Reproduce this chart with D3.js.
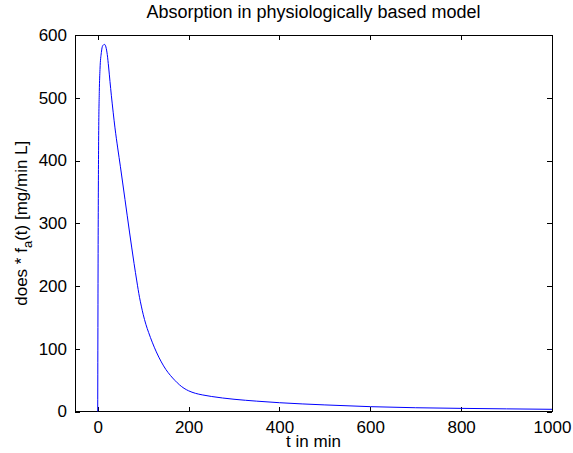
<!DOCTYPE html>
<html lang="en">
<head>
  <meta charset="UTF-8">
  <title>Absorption in physiologically based model</title>
  <script src="https://d3js.org/d3.v7.min.js"></script>
  <style>
    body { margin: 0; background: #fff; }
    svg { display: block; font-family: "Liberation Sans", Arial, sans-serif; }
    .axis path, .axis line { stroke: #000; shape-rendering: crispEdges; }
    .axis text { font-size: 17px; fill: #000; }
  </style>
</head>
<body>
  <svg id="chart" width="573" height="453"></svg>
  <script>
    // time points (min) and absorption values
    const tValues = [0, 1, 2, 3.5, 5, 8, 11, 15, 18, 21, 24, 27, 30, 34, 38, 44, 50, 60, 70, 80, 86, 92, 96,
                     100, 106, 112, 120, 129, 140, 150, 160, 170, 180, 190, 200, 215, 230, 250, 275, 300,
                     350, 400, 500, 600, 700, 800, 900, 1000];
    const fValues = [0, 280, 430, 510, 545, 572, 583, 585, 581, 569, 549, 526, 504, 477, 452, 420, 390, 338, 286, 236, 208, 182, 168,
                     155, 139, 126, 110.5, 95, 79, 67, 57.5, 49.5, 42.5, 37, 33, 29, 26.5, 24, 21.5, 19.5,
                     16.5, 14, 10.5, 7.7, 6, 5, 4.2, 3.5];
    const xTicks = [0, 200, 400, 600, 800, 1000];
    const yTicks = [0, 100, 200, 300, 400, 500, 600];

    const data = tValues.map((t, i) => ({ t: t, f: fValues[i] }));

    // plot box
    const box = { left: 75, right: 552, top: 35, bottom: 411.5 };

    const svg = d3.select("#chart");

    const x = d3.scaleLinear().domain([-50, 1000]).range([box.left, box.right]);
    const y = d3.scaleLinear().domain([0, 600]).range([box.bottom, box.top]);

    // ticks pointing inward on all four sides
    svg.append("g")
      .attr("class", "axis")
      .attr("transform", `translate(0,${box.bottom})`)
      .call(d3.axisBottom(x).tickValues(xTicks).tickFormat(d3.format("d"))
        .tickSizeInner(-5).tickSizeOuter(0).tickPadding(9))
      .call(g => g.select(".domain").remove());

    svg.append("g")
      .attr("class", "axis")
      .attr("transform", `translate(0,${box.top})`)
      .call(d3.axisTop(x).tickValues(xTicks).tickSizeInner(-5).tickSizeOuter(0).tickFormat(""))
      .call(g => g.select(".domain").remove());

    svg.append("g")
      .attr("class", "axis")
      .attr("transform", `translate(${box.left},0)`)
      .call(d3.axisLeft(y).tickValues(yTicks).tickSizeInner(-5).tickSizeOuter(0).tickPadding(8))
      .call(g => g.select(".domain").remove());

    svg.append("g")
      .attr("class", "axis")
      .attr("transform", `translate(${box.right},0)`)
      .call(d3.axisRight(y).tickValues(yTicks).tickSizeInner(-5).tickSizeOuter(0).tickFormat(""))
      .call(g => g.select(".domain").remove());

    // box
    svg.append("rect")
      .attr("x", box.left).attr("y", box.top)
      .attr("width", box.right - box.left).attr("height", box.bottom - box.top)
      .attr("fill", "none").attr("stroke", "#000")
      .attr("shape-rendering", "crispEdges");

    // the curve
    const line = d3.line()
      .x(d => x(d.t))
      .y(d => y(d.f))
      .curve(d3.curveMonotoneX);

    svg.append("path")
      .datum(data)
      .attr("fill", "none")
      .attr("stroke", "#0000ff")
      .attr("stroke-width", 1)
      .attr("d", line);

    // title and labels
    svg.append("text")
      .attr("x", (box.left + box.right) / 2).attr("y", 18)
      .attr("text-anchor", "middle")
      .attr("font-size", 18)
      .text("Absorption in physiologically based model");

    svg.append("text")
      .attr("x", (box.left + box.right) / 2).attr("y", 447)
      .attr("text-anchor", "middle")
      .attr("font-size", 17)
      .text("t in min");

    const ylab = svg.append("text")
      .attr("transform", `translate(27,${(box.top + box.bottom) / 2}) rotate(-90)`)
      .attr("text-anchor", "middle")
      .attr("font-size", 17);
    ylab.append("tspan").text("does * f");
    ylab.append("tspan").attr("dy", 5).attr("font-size", 13).text("a");
    ylab.append("tspan").attr("dy", -5).text("(t) [mg/min L]");
  </script>
</body>
</html>
